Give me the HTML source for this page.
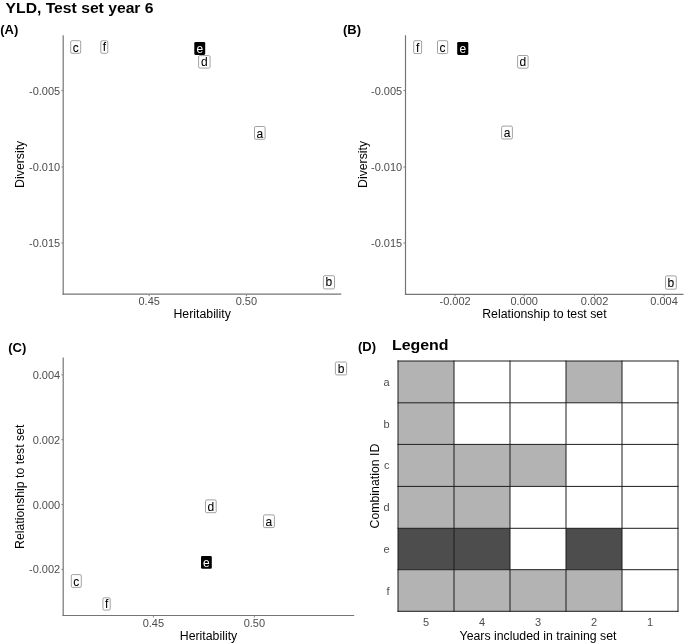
<!DOCTYPE html>
<html><head><meta charset="utf-8"><style>
html,body{margin:0;padding:0;background:#fff;}
body{width:685px;height:644px;overflow:hidden;}
svg{display:block;font-family:"Liberation Sans",sans-serif;will-change:transform;}
</style></head><body>
<svg width="685" height="644" viewBox="0 0 685 644">
<rect width="685" height="644" fill="#fff"/>
<text transform="translate(5.6 12.7) scale(1.04 1)" font-size="15.1" text-anchor="start" fill="#000" font-weight="bold">YLD, Test set year 6</text>
<text transform="translate(0.2 33.8) scale(1.03 1)" font-size="12.6" text-anchor="start" fill="#000" font-weight="bold">(A)</text>
<line x1="63.2" y1="35.3" x2="63.2" y2="294.8" stroke="#757575" stroke-width="1.2"/>
<line x1="62.6" y1="294.2" x2="341.3" y2="294.2" stroke="#757575" stroke-width="1.2"/>
<line x1="61.4" y1="90.6" x2="63.0" y2="90.6" stroke="#757575" stroke-width="0.9"/>
<text x="60.2" y="94.5" font-size="11" text-anchor="end" fill="#4d4d4d" font-weight="normal">-0.005</text>
<line x1="61.4" y1="167.0" x2="63.0" y2="167.0" stroke="#757575" stroke-width="0.9"/>
<text x="60.2" y="170.9" font-size="11" text-anchor="end" fill="#4d4d4d" font-weight="normal">-0.010</text>
<line x1="61.4" y1="243.0" x2="63.0" y2="243.0" stroke="#757575" stroke-width="0.9"/>
<text x="60.2" y="246.9" font-size="11" text-anchor="end" fill="#4d4d4d" font-weight="normal">-0.015</text>
<line x1="149.2" y1="294.8" x2="149.2" y2="296.2" stroke="#757575" stroke-width="0.9"/>
<text x="149.2" y="305.2" font-size="11" text-anchor="middle" fill="#4d4d4d" font-weight="normal">0.45</text>
<line x1="246.4" y1="294.8" x2="246.4" y2="296.2" stroke="#757575" stroke-width="0.9"/>
<text x="246.4" y="305.2" font-size="11" text-anchor="middle" fill="#4d4d4d" font-weight="normal">0.50</text>
<text x="202.2" y="317.9" font-size="12.3" text-anchor="middle" fill="#000" font-weight="normal">Heritability</text>
<text x="24.3" y="164.3" font-size="12.3" text-anchor="middle" fill="#000" font-weight="normal" transform="rotate(-90 24.3 164.3)">Diversity</text>
<rect x="70.7" y="40.699999999999996" width="9.999999999999996" height="12.600000000000005" rx="1.3" fill="#fff" stroke="#8a8a8a" stroke-width="0.8"/>
<text x="75.70" y="51.60" font-size="12" text-anchor="middle" fill="#000" stroke="#000" stroke-width="0.06">c</text>
<rect x="100.80000000000001" y="40.699999999999996" width="6.999999999999997" height="12.600000000000005" rx="1.3" fill="#fff" stroke="#8a8a8a" stroke-width="0.8"/>
<text x="104.30" y="51.40" font-size="12" text-anchor="middle" fill="#000" stroke="#000" stroke-width="0.06">f</text>
<rect x="194.3" y="42.0" width="10.899999999999977" height="12.899999999999999" rx="1.3" fill="#000"/>
<text x="199.75" y="53.20" font-size="12" text-anchor="middle" fill="#fff" stroke="#fff" stroke-width="0">e</text>
<rect x="198.6" y="55.6" width="11.50000000000001" height="12.499999999999996" rx="1.3" fill="#fff" stroke="#8a8a8a" stroke-width="0.8"/>
<text x="204.35" y="65.70" font-size="12" text-anchor="middle" fill="#000" stroke="#000" stroke-width="0.06">d</text>
<rect x="254.5" y="126.5" width="10.600000000000005" height="12.799999999999994" rx="1.3" fill="#fff" stroke="#8a8a8a" stroke-width="0.8"/>
<text x="259.80" y="137.70" font-size="12" text-anchor="middle" fill="#000" stroke="#000" stroke-width="0.06">a</text>
<rect x="323.4" y="275.7" width="11.099999999999977" height="13.2" rx="1.3" fill="#fff" stroke="#8a8a8a" stroke-width="0.8"/>
<text x="328.95" y="286.20" font-size="12" text-anchor="middle" fill="#000" stroke="#000" stroke-width="0.06">b</text>
<text transform="translate(343.0 33.7) scale(1.03 1)" font-size="12.6" text-anchor="start" fill="#000" font-weight="bold">(B)</text>
<line x1="405.5" y1="35.3" x2="405.5" y2="294.9" stroke="#757575" stroke-width="1.2"/>
<line x1="404.9" y1="294.3" x2="683.4" y2="294.3" stroke="#757575" stroke-width="1.2"/>
<line x1="403.4" y1="90.6" x2="405.0" y2="90.6" stroke="#757575" stroke-width="0.9"/>
<text x="402.2" y="94.5" font-size="11" text-anchor="end" fill="#4d4d4d" font-weight="normal">-0.005</text>
<line x1="403.4" y1="167.0" x2="405.0" y2="167.0" stroke="#757575" stroke-width="0.9"/>
<text x="402.2" y="170.9" font-size="11" text-anchor="end" fill="#4d4d4d" font-weight="normal">-0.010</text>
<line x1="403.4" y1="243.0" x2="405.0" y2="243.0" stroke="#757575" stroke-width="0.9"/>
<text x="402.2" y="246.9" font-size="11" text-anchor="end" fill="#4d4d4d" font-weight="normal">-0.015</text>
<line x1="455.1" y1="295.0" x2="455.1" y2="296.4" stroke="#757575" stroke-width="0.9"/>
<text x="455.1" y="305.4" font-size="11" text-anchor="middle" fill="#4d4d4d" font-weight="normal">-0.002</text>
<line x1="524.2" y1="295.0" x2="524.2" y2="296.4" stroke="#757575" stroke-width="0.9"/>
<text x="524.2" y="305.4" font-size="11" text-anchor="middle" fill="#4d4d4d" font-weight="normal">0.000</text>
<line x1="594.6" y1="295.0" x2="594.6" y2="296.4" stroke="#757575" stroke-width="0.9"/>
<text x="594.6" y="305.4" font-size="11" text-anchor="middle" fill="#4d4d4d" font-weight="normal">0.002</text>
<line x1="664.1" y1="295.0" x2="664.1" y2="296.4" stroke="#757575" stroke-width="0.9"/>
<text x="664.1" y="305.4" font-size="11" text-anchor="middle" fill="#4d4d4d" font-weight="normal">0.004</text>
<text x="544.4" y="317.9" font-size="12.3" text-anchor="middle" fill="#000" font-weight="normal">Relationship to test set</text>
<text x="366.6" y="164.4" font-size="12.3" text-anchor="middle" fill="#000" font-weight="normal" transform="rotate(-90 366.6 164.4)">Diversity</text>
<rect x="413.7" y="40.699999999999996" width="7.899999999999989" height="12.900000000000002" rx="1.3" fill="#fff" stroke="#8a8a8a" stroke-width="0.8"/>
<text x="417.65" y="51.50" font-size="12" text-anchor="middle" fill="#000" stroke="#000" stroke-width="0.06">f</text>
<rect x="437.5" y="40.699999999999996" width="10.2" height="12.900000000000002" rx="1.3" fill="#fff" stroke="#8a8a8a" stroke-width="0.8"/>
<text x="442.60" y="51.70" font-size="12" text-anchor="middle" fill="#000" stroke="#000" stroke-width="0.06">c</text>
<rect x="457.2" y="41.9" width="11.100000000000023" height="13.0" rx="1.3" fill="#000"/>
<text x="462.75" y="52.60" font-size="12" text-anchor="middle" fill="#fff" stroke="#fff" stroke-width="0">e</text>
<rect x="517.6" y="55.5" width="10.499999999999954" height="12.699999999999992" rx="1.3" fill="#fff" stroke="#8a8a8a" stroke-width="0.8"/>
<text x="522.85" y="65.80" font-size="12" text-anchor="middle" fill="#000" stroke="#000" stroke-width="0.06">d</text>
<rect x="501.59999999999997" y="126.10000000000001" width="10.799999999999965" height="12.900000000000002" rx="1.3" fill="#fff" stroke="#8a8a8a" stroke-width="0.8"/>
<text x="507.00" y="137.40" font-size="12" text-anchor="middle" fill="#000" stroke="#000" stroke-width="0.06">a</text>
<rect x="665.5" y="275.9" width="10.800000000000022" height="13.300000000000022" rx="1.3" fill="#fff" stroke="#8a8a8a" stroke-width="0.8"/>
<text x="670.90" y="286.60" font-size="12" text-anchor="middle" fill="#000" stroke="#000" stroke-width="0.06">b</text>
<text transform="translate(8.3 351.6) scale(1.03 1)" font-size="12.6" text-anchor="start" fill="#000" font-weight="bold">(C)</text>
<line x1="63.2" y1="357.4" x2="63.2" y2="616.1" stroke="#757575" stroke-width="1.2"/>
<line x1="62.6" y1="615.5" x2="354.2" y2="615.5" stroke="#757575" stroke-width="1.2"/>
<line x1="61.4" y1="374.9" x2="63.0" y2="374.9" stroke="#757575" stroke-width="0.9"/>
<text x="60.2" y="378.79999999999995" font-size="11" text-anchor="end" fill="#4d4d4d" font-weight="normal">0.004</text>
<line x1="61.4" y1="439.7" x2="63.0" y2="439.7" stroke="#757575" stroke-width="0.9"/>
<text x="60.2" y="443.59999999999997" font-size="11" text-anchor="end" fill="#4d4d4d" font-weight="normal">0.002</text>
<line x1="61.4" y1="504.6" x2="63.0" y2="504.6" stroke="#757575" stroke-width="0.9"/>
<text x="60.2" y="508.5" font-size="11" text-anchor="end" fill="#4d4d4d" font-weight="normal">0.000</text>
<line x1="61.4" y1="569.4" x2="63.0" y2="569.4" stroke="#757575" stroke-width="0.9"/>
<text x="60.2" y="573.3" font-size="11" text-anchor="end" fill="#4d4d4d" font-weight="normal">-0.002</text>
<line x1="153.4" y1="616.1" x2="153.4" y2="617.5" stroke="#757575" stroke-width="0.9"/>
<text x="153.4" y="626.9" font-size="11" text-anchor="middle" fill="#4d4d4d" font-weight="normal">0.45</text>
<line x1="254.4" y1="616.1" x2="254.4" y2="617.5" stroke="#757575" stroke-width="0.9"/>
<text x="254.4" y="626.9" font-size="11" text-anchor="middle" fill="#4d4d4d" font-weight="normal">0.50</text>
<text x="208.5" y="640.2" font-size="12.3" text-anchor="middle" fill="#000" font-weight="normal">Heritability</text>
<text x="24.3" y="486.8" font-size="12.3" text-anchor="middle" fill="#000" font-weight="normal" transform="rotate(-90 24.3 486.8)">Relationship to test set</text>
<rect x="71.30000000000001" y="574.6" width="9.999999999999996" height="12.799999999999908" rx="1.3" fill="#fff" stroke="#8a8a8a" stroke-width="0.8"/>
<text x="76.30" y="585.50" font-size="12" text-anchor="middle" fill="#000" stroke="#000" stroke-width="0.06">c</text>
<rect x="102.9" y="597.8" width="7.2999999999999945" height="12.300000000000022" rx="1.3" fill="#fff" stroke="#8a8a8a" stroke-width="0.8"/>
<text x="106.55" y="608.10" font-size="12" text-anchor="middle" fill="#000" stroke="#000" stroke-width="0.06">f</text>
<rect x="205.5" y="499.9" width="10.7" height="12.800000000000022" rx="1.3" fill="#fff" stroke="#8a8a8a" stroke-width="0.8"/>
<text x="210.85" y="510.90" font-size="12" text-anchor="middle" fill="#000" stroke="#000" stroke-width="0.06">d</text>
<rect x="263.5" y="514.9" width="10.899999999999988" height="12.7" rx="1.3" fill="#fff" stroke="#8a8a8a" stroke-width="0.8"/>
<text x="268.95" y="525.60" font-size="12" text-anchor="middle" fill="#000" stroke="#000" stroke-width="0.06">a</text>
<rect x="201.0" y="556.0" width="10.800000000000011" height="12.700000000000045" rx="1.3" fill="#000"/>
<text x="206.40" y="566.60" font-size="12" text-anchor="middle" fill="#fff" stroke="#fff" stroke-width="0">e</text>
<rect x="335.4" y="362.0" width="11.2" height="12.899999999999988" rx="1.3" fill="#fff" stroke="#8a8a8a" stroke-width="0.8"/>
<text x="341.00" y="372.60" font-size="12" text-anchor="middle" fill="#000" stroke="#000" stroke-width="0.06">b</text>
<text transform="translate(358.0 351.3) scale(1.03 1)" font-size="12.6" text-anchor="start" fill="#000" font-weight="bold">(D)</text>
<text transform="translate(391.9 350.4) scale(1.057 1)" font-size="15.1" text-anchor="start" fill="#000" font-weight="bold">Legend</text>
<rect x="398" y="361.00" width="56" height="41.80" fill="#b3b3b3"/>
<rect x="454" y="361.00" width="56" height="41.80" fill="#fff"/>
<rect x="510" y="361.00" width="56" height="41.80" fill="#fff"/>
<rect x="566" y="361.00" width="56" height="41.80" fill="#b3b3b3"/>
<rect x="622" y="361.00" width="56" height="41.80" fill="#fff"/>
<text x="389.6" y="385.9" font-size="11" text-anchor="end" fill="#4d4d4d" font-weight="normal">a</text>
<rect x="398" y="402.80" width="56" height="41.60" fill="#b3b3b3"/>
<rect x="454" y="402.80" width="56" height="41.60" fill="#fff"/>
<rect x="510" y="402.80" width="56" height="41.60" fill="#fff"/>
<rect x="566" y="402.80" width="56" height="41.60" fill="#fff"/>
<rect x="622" y="402.80" width="56" height="41.60" fill="#fff"/>
<text x="389.6" y="427.6" font-size="11" text-anchor="end" fill="#4d4d4d" font-weight="normal">b</text>
<rect x="398" y="444.40" width="56" height="42.00" fill="#b3b3b3"/>
<rect x="454" y="444.40" width="56" height="42.00" fill="#b3b3b3"/>
<rect x="510" y="444.40" width="56" height="42.00" fill="#b3b3b3"/>
<rect x="566" y="444.40" width="56" height="42.00" fill="#fff"/>
<rect x="622" y="444.40" width="56" height="42.00" fill="#fff"/>
<text x="389.6" y="469.4" font-size="11" text-anchor="end" fill="#4d4d4d" font-weight="normal">c</text>
<rect x="398" y="486.40" width="56" height="41.90" fill="#b3b3b3"/>
<rect x="454" y="486.40" width="56" height="41.90" fill="#b3b3b3"/>
<rect x="510" y="486.40" width="56" height="41.90" fill="#fff"/>
<rect x="566" y="486.40" width="56" height="41.90" fill="#fff"/>
<rect x="622" y="486.40" width="56" height="41.90" fill="#fff"/>
<text x="389.6" y="511.34999999999997" font-size="11" text-anchor="end" fill="#4d4d4d" font-weight="normal">d</text>
<rect x="398" y="528.30" width="56" height="41.40" fill="#4d4d4d"/>
<rect x="454" y="528.30" width="56" height="41.40" fill="#4d4d4d"/>
<rect x="510" y="528.30" width="56" height="41.40" fill="#fff"/>
<rect x="566" y="528.30" width="56" height="41.40" fill="#4d4d4d"/>
<rect x="622" y="528.30" width="56" height="41.40" fill="#fff"/>
<text x="389.6" y="553.0" font-size="11" text-anchor="end" fill="#4d4d4d" font-weight="normal">e</text>
<rect x="398" y="569.70" width="56" height="41.60" fill="#b3b3b3"/>
<rect x="454" y="569.70" width="56" height="41.60" fill="#b3b3b3"/>
<rect x="510" y="569.70" width="56" height="41.60" fill="#b3b3b3"/>
<rect x="566" y="569.70" width="56" height="41.60" fill="#b3b3b3"/>
<rect x="622" y="569.70" width="56" height="41.60" fill="#fff"/>
<text x="389.6" y="594.5" font-size="11" text-anchor="end" fill="#4d4d4d" font-weight="normal">f</text>
<line x1="398" y1="360.5" x2="398" y2="611.8" stroke="#1c1c1c" stroke-width="1.0"/>
<line x1="454" y1="360.5" x2="454" y2="611.8" stroke="#1c1c1c" stroke-width="1.0"/>
<line x1="510" y1="360.5" x2="510" y2="611.8" stroke="#1c1c1c" stroke-width="1.0"/>
<line x1="566" y1="360.5" x2="566" y2="611.8" stroke="#1c1c1c" stroke-width="1.0"/>
<line x1="622" y1="360.5" x2="622" y2="611.8" stroke="#1c1c1c" stroke-width="1.0"/>
<line x1="678" y1="360.5" x2="678" y2="611.8" stroke="#1c1c1c" stroke-width="1.0"/>
<line x1="397.5" y1="361.0" x2="678.5" y2="361.0" stroke="#1c1c1c" stroke-width="1.0"/>
<line x1="397.5" y1="402.8" x2="678.5" y2="402.8" stroke="#1c1c1c" stroke-width="1.0"/>
<line x1="397.5" y1="444.4" x2="678.5" y2="444.4" stroke="#1c1c1c" stroke-width="1.0"/>
<line x1="397.5" y1="486.4" x2="678.5" y2="486.4" stroke="#1c1c1c" stroke-width="1.0"/>
<line x1="397.5" y1="528.3" x2="678.5" y2="528.3" stroke="#1c1c1c" stroke-width="1.0"/>
<line x1="397.5" y1="569.7" x2="678.5" y2="569.7" stroke="#1c1c1c" stroke-width="1.0"/>
<line x1="397.5" y1="611.3" x2="678.5" y2="611.3" stroke="#1c1c1c" stroke-width="1.0"/>
<text x="426" y="626.4" font-size="11" text-anchor="middle" fill="#4d4d4d" font-weight="normal">5</text>
<text x="482" y="626.4" font-size="11" text-anchor="middle" fill="#4d4d4d" font-weight="normal">4</text>
<text x="538" y="626.4" font-size="11" text-anchor="middle" fill="#4d4d4d" font-weight="normal">3</text>
<text x="594" y="626.4" font-size="11" text-anchor="middle" fill="#4d4d4d" font-weight="normal">2</text>
<text x="650" y="626.4" font-size="11" text-anchor="middle" fill="#4d4d4d" font-weight="normal">1</text>
<text x="538" y="639.8" font-size="12.3" text-anchor="middle" fill="#000" font-weight="normal">Years included in training set</text>
<text x="379.4" y="486.1" font-size="12.3" text-anchor="middle" fill="#000" font-weight="normal" transform="rotate(-90 379.4 486.1)">Combination ID</text>
</svg>
</body></html>
